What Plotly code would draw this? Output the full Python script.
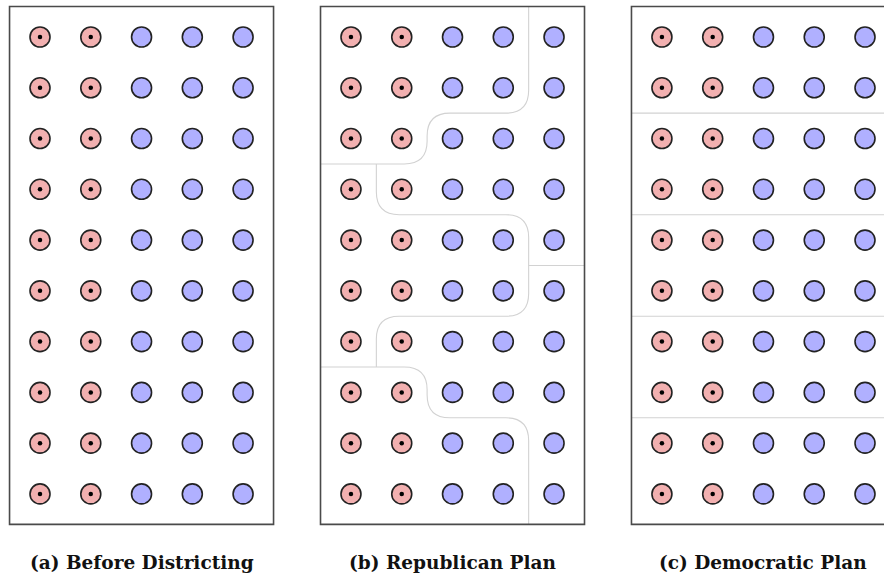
import plotly.graph_objects as go

# ---------------- data ----------------
columns = [0, 1, 2, 3, 4]
rows = [0, 1, 2, 3, 4, 5, 6, 7, 8, 9]
column_party = ["R", "R", "D", "D", "D"]

panel_titles = ["(a) Before Districting", "(b) Republican Plan", "(c) Democratic Plan"]
panel_offsets = [0.0, 6.125, 12.25]

# district boundaries (grid coordinates, between voter cells)
republican_boundaries = [
    [(3.5, -0.6), (3.5, 1.5), (1.5, 1.5), (1.5, 2.5), (-0.6, 2.5)],
    [(0.5, 2.5), (0.5, 3.5), (3.5, 3.5), (3.5, 5.5), (0.5, 5.5), (0.5, 6.5)],
    [(-0.6, 6.5), (1.5, 6.5), (1.5, 7.5), (3.5, 7.5), (3.5, 9.6)],
    [(3.5, 4.5), (4.6, 4.5)],
]
democratic_boundaries = [
    [(-0.6, 1.5), (4.6, 1.5)],
    [(-0.6, 3.5), (4.6, 3.5)],
    [(-0.6, 5.5), (4.6, 5.5)],
    [(-0.6, 7.5), (4.6, 7.5)],
]
panel_boundaries = [[], republican_boundaries, democratic_boundaries]

# ---------------- style ----------------
RED_FILL = "#f2b0b0"
BLUE_FILL = "#b0b0ff"
OUTLINE = "#222222"
BOX_COLOR = "#4a4a4a"
LINE_COLOR = "#d2d2d2"
CORNER_R = 0.45
BOX = (-0.6, 4.6, -0.6, 9.6)


def rounded_path(pts, off, r):
    pts = [(x + off, y) for x, y in pts]
    d = "M %.4f,%.4f" % pts[0]
    for i in range(1, len(pts) - 1):
        px, py = pts[i - 1]
        cx, cy = pts[i]
        nx, ny = pts[i + 1]

        def toward(ax, ay, bx, by, dist):
            L = ((bx - ax) ** 2 + (by - ay) ** 2) ** 0.5
            return ax + (bx - ax) * dist / L, ay + (by - ay) * dist / L

        a = toward(cx, cy, px, py, r)
        b = toward(cx, cy, nx, ny, r)
        d += " L %.4f,%.4f Q %.4f,%.4f %.4f,%.4f" % (a[0], a[1], cx, cy, b[0], b[1])
    d += " L %.4f,%.4f" % pts[-1]
    return d


fig = go.Figure()
shapes = []
annotations = []

for p, off in enumerate(panel_offsets):
    rx, ry, bx, by = [], [], [], []
    for c, party in zip(columns, column_party):
        for r in rows:
            if party == "R":
                rx.append(c + off)
                ry.append(r)
            else:
                bx.append(c + off)
                by.append(r)
    fig.add_trace(go.Scatter(
        x=rx, y=ry, mode="markers", hoverinfo="skip", showlegend=False,
        marker=dict(size=20, color=RED_FILL, line=dict(color=OUTLINE, width=1.6)),
    ))
    fig.add_trace(go.Scatter(
        x=rx, y=ry, mode="markers", hoverinfo="skip", showlegend=False,
        marker=dict(size=4.5, color="#000000", line=dict(width=0)),
    ))
    fig.add_trace(go.Scatter(
        x=bx, y=by, mode="markers", hoverinfo="skip", showlegend=False,
        marker=dict(size=20, color=BLUE_FILL, line=dict(color=OUTLINE, width=1.6)),
    ))

    for line in panel_boundaries[p]:
        shapes.append(dict(
            type="path", xref="x", yref="y", layer="below",
            path=rounded_path(line, off, CORNER_R),
            line=dict(color=LINE_COLOR, width=1.1),
        ))

    shapes.append(dict(
        type="rect", xref="x", yref="y", layer="above",
        x0=BOX[0] + off, x1=BOX[1] + off, y0=BOX[2], y1=BOX[3],
        line=dict(color=BOX_COLOR, width=1.6), fillcolor="rgba(0,0,0,0)",
    ))

    annotations.append(dict(
        x=2 + off, y=10.36, xref="x", yref="y", text="<b>%s</b>" % panel_titles[p],
        showarrow=False, xanchor="center", yanchor="middle",
        font=dict(family="DejaVu Serif", size=18.5, color="#111111"),
    ))

fig.update_layout(
    width=884, height=575,
    margin=dict(l=0, r=0, t=0, b=0),
    paper_bgcolor="white", plot_bgcolor="white",
    shapes=shapes, annotations=annotations,
    xaxis=dict(range=[-0.788, 16.624], visible=False, fixedrange=True),
    yaxis=dict(range=[10.597, -0.729], visible=False, fixedrange=True),
)

fig.write_html(
    "out.html",
    config={"displayModeBar": False},
    post_script="document.body.style.margin='0';document.body.style.overflow='hidden';",
)
